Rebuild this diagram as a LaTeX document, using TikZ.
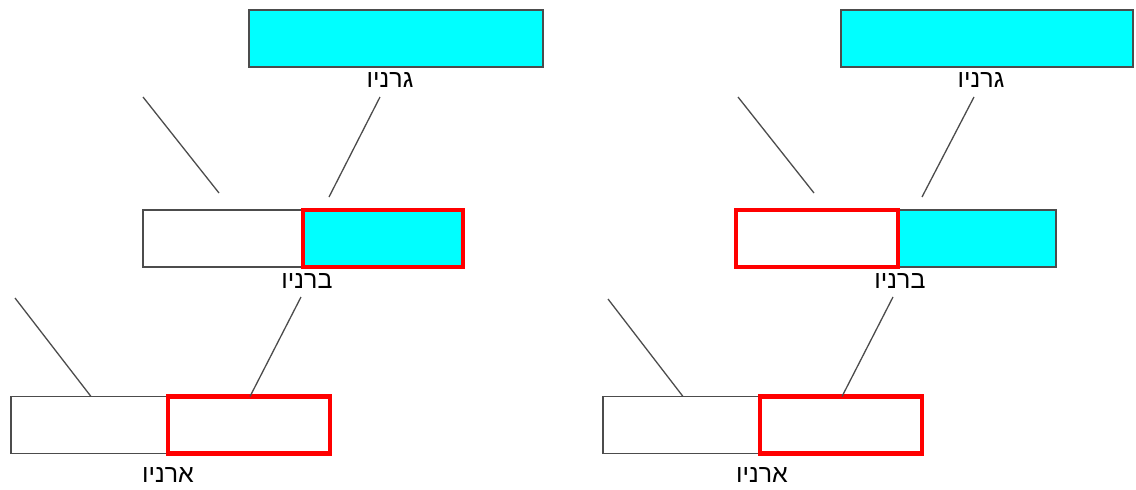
\documentclass[tikz,border=0pt]{standalone}
\usepackage{fontspec}
\setmainfont{Liberation Sans}
\newfontfamily\hebfont[Script=Hebrew]{Liberation Sans}
\TeXXeTstate=1
\definecolor{aqua}{RGB}{0,255,255}
\begin{document}
\begin{tikzpicture}[x=1pt,y=-1pt,
  cell/.style={draw=black!70,line width=1.4pt,inner sep=0pt,minimum height=57pt},
  hot/.style={draw=red,line width=4.5pt,inner sep=0pt,minimum height=57pt},
  lbl/.style={font=\hebfont\fontsize{25}{27}\selectfont,inner sep=0pt},
  conn/.style={draw=black!70,line width=1.3pt}]
\useasboundingbox (0,0) rectangle (1136,490);
% ---------- left tree ----------
\node[cell,fill=aqua,minimum width=294pt] (Lg) at (396,38.5) {};
\node[lbl] (Lgl) at (390,80.5) {\beginR גרניו\endR};
\node[cell,fill=white,minimum width=160pt] (Lbw) at (223,238.5) {};
\node[hot,fill=aqua,minimum width=160pt] (Lbc) at (383,238.5) {};
\node[lbl] (Lbl) at (307,281) {\beginR ברניו\endR};
\node[cell,fill=white,minimum width=157pt] (Law) at (89.5,425) {};
\node[hot,fill=none,minimum width=162pt] (Lac) at (249,425) {};
\node[lbl] (Lal) at (168,475) {\beginR ארניו\endR};
\coordinate (L1a) at (143,97);
\coordinate (L1b) at (219,193);
\coordinate (L2a) at (380,97);
\coordinate (L2b) at (329,197);
\coordinate (L3a) at (15,298);
\coordinate (L3b) at (91,396.5);
\coordinate (L4a) at (301,297);
\coordinate (L4b) at (250,396.5);
\draw[conn] (L1a) -- (L1b);
\draw[conn] (L2a) -- (L2b);
\draw[conn] (L3a) -- (L3b);
\draw[conn] (L4a) -- (L4b);
% ---------- right tree ----------
\node[cell,fill=aqua,minimum width=292pt] (Rg) at (987,38.5) {};
\node[lbl] (Rgl) at (981,80.5) {\beginR גרניו\endR};
\node[cell,fill=aqua,minimum width=158pt] (Rbc) at (977,238.5) {};
\node[hot,fill=white,minimum width=162pt] (Rbw) at (817,238.5) {};
\node[lbl] (Rbl) at (900,281) {\beginR ברניו\endR};
\node[cell,fill=white,minimum width=157pt] (Raw) at (681.5,425) {};
\node[hot,fill=none,minimum width=162pt] (Rac) at (841,425) {};
\node[lbl] (Ral) at (762,475) {\beginR ארניו\endR};
\coordinate (R1a) at (738,97);
\coordinate (R1b) at (814,193);
\coordinate (R2a) at (974,97);
\coordinate (R2b) at (922,197);
\coordinate (R3a) at (608,299);
\coordinate (R3b) at (683,396.5);
\coordinate (R4a) at (893,297);
\coordinate (R4b) at (842,396.5);
\draw[conn] (R1a) -- (R1b);
\draw[conn] (R2a) -- (R2b);
\draw[conn] (R3a) -- (R3b);
\draw[conn] (R4a) -- (R4b);
\end{tikzpicture}
\end{document}
